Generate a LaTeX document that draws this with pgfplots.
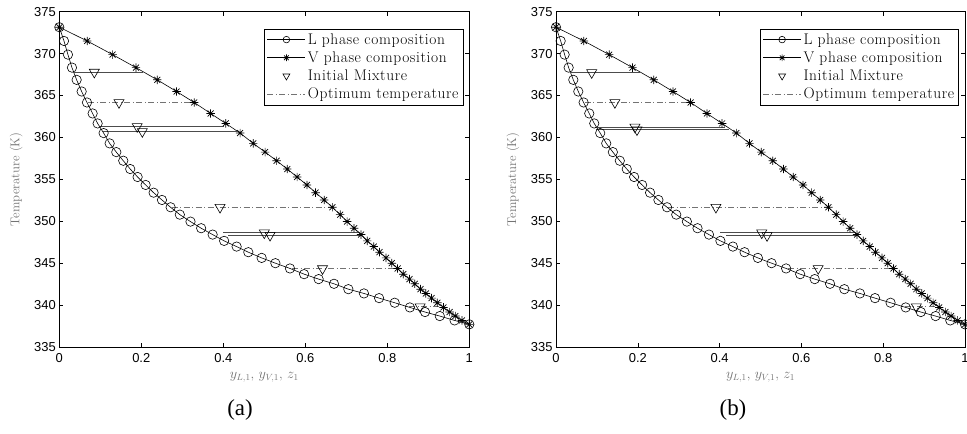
\documentclass[border=0pt]{standalone}
\usepackage{fontspec}
\usepackage{pgfplots}
\usepackage{pgfplotstable}
\pgfplotsset{compat=1.18}
\newfontfamily\helv{Liberation Sans}
\newfontfamily\capfont{Liberation Serif}
\newfontfamily\legfont[LetterSpace=4]{Latin Modern Roman}

% MATLAB-like '*' marker (plus and cross)
\pgfdeclareplotmark{mstar}{%
  \pgfpathmoveto{\pgfqpoint{-\pgfplotmarksize}{0pt}}\pgfpathlineto{\pgfqpoint{\pgfplotmarksize}{0pt}}%
  \pgfpathmoveto{\pgfqpoint{0pt}{-\pgfplotmarksize}}\pgfpathlineto{\pgfqpoint{0pt}{\pgfplotmarksize}}%
  \pgfpathmoveto{\pgfqpoint{-0.707\pgfplotmarksize}{-0.707\pgfplotmarksize}}\pgfpathlineto{\pgfqpoint{0.707\pgfplotmarksize}{0.707\pgfplotmarksize}}%
  \pgfpathmoveto{\pgfqpoint{-0.707\pgfplotmarksize}{0.707\pgfplotmarksize}}\pgfpathlineto{\pgfqpoint{0.707\pgfplotmarksize}{-0.707\pgfplotmarksize}}%
  \pgfusepathqstroke}

% liquid (bubble) curve
\pgfplotstableread{
x T
0.000 373.15
0.0114 371.51
0.0211 369.88
0.0309 368.33
0.0423 366.87
0.0545 365.48
0.0675 364.17
0.0813 362.86
0.0935 361.67
0.1081 360.52
0.1228 359.29
0.139 358.25
0.156 357.22
0.173 356.23
0.191 355.28
0.2106 354.33
0.230 353.41
0.2504 352.54
0.2715 351.67
0.294 350.79
0.320 349.96
0.346 349.17
0.374 348.41
0.402 347.66
0.4325 346.98
0.461 346.31
0.4935 345.63
0.527 345.00
0.5626 344.37
0.597 343.69
0.6325 343.10
0.670 342.54
0.705 341.90
0.743 341.39
0.780 340.83
0.818 340.28
0.855 339.72
0.892 339.17
0.928 338.69
0.964 338.17
1.000 337.70
}\Ldata

% vapour (dew) curve
\pgfplotstableread{
x T
0.000 373.15
0.068 371.51
0.130 369.88
0.187 368.33
0.239 366.87
0.286 365.48
0.329 364.17
0.369 362.86
0.406 361.67
0.441 360.52
0.473 359.29
0.502 358.25
0.530 357.22
0.556 356.23
0.580 355.28
0.604 354.33
0.625 353.41
0.646 352.54
0.666 351.67
0.685 350.79
0.702 349.96
0.719 349.17
0.736 348.41
0.751 347.66
0.767 346.98
0.781 346.31
0.797 345.63
0.811 345.00
0.825 344.37
0.839 343.69
0.854 343.10
0.867 342.54
0.881 341.90
0.894 341.39
0.908 340.83
0.922 340.28
0.937 339.72
0.952 339.17
0.966 338.69
0.982 338.17
1.000 337.70
}\Vdata

% initial mixtures
\pgfplotstableread{
x T
0.0854 367.79
0.1456 364.17
0.190 361.31
0.2025 360.71
0.392 351.67
0.500 348.62
0.514 348.33
0.642 344.35
0.880 339.80
}\triA
\pgfplotstableread{
x T
0.0873 367.74
0.144 364.17
0.193 361.24
0.198 360.92
0.391 351.67
0.503 348.62
0.516 348.30
0.641 344.37
0.881 339.80
}\triB

\pgfplotsset{
  vle/.style={
    scale only axis, width=410bp, height=335.3bp,
    xmin=0, xmax=1, ymin=335, ymax=375,
    xtick={0,0.2,0.4,0.6,0.8,1}, ytick={335,340,345,350,355,360,365,370,375},
    tick align=inside, major tick length=4bp,
    axis line style={line width=0.8bp},
    every tick/.style={black, line width=0.6bp},
    /pgf/number format/assume math mode=true,
    tick label style={font=\helv\fontsize{13}{13}\selectfont},
    xticklabel style={yshift=-3bp},
    xlabel={$y_{L,1}$, $y_{V,1}$, $z_1$},
    ylabel={Temperature (K)},
    xlabel style={at={(axis description cs:0.5,-0.0895)}, anchor=center,
      text=black!55, font=\fontsize{13.5}{14}\selectfont},
    ylabel style={at={(axis description cs:-0.105,0.5)}, anchor=center,
      text=black!55, font=\fontsize{12.8}{13}\selectfont},
    clip=false,
    legend style={at={(rel axis cs:1,1)}, anchor=north east, xshift=-6bp, yshift=-17bp,
      draw=black, line width=0.6bp, fill=white, font=\legfont\fontsize{15.5}{17}\selectfont,
      row sep=2bp, inner sep=2.5bp},
    legend cell align=left,
    legend image code/.code={\draw[mark repeat=2,mark phase=2,#1] plot coordinates {(0bp,0bp) (19bp,0bp) (38bp,0bp)};},
  },
  curveL/.style={black, line width=0.6bp, mark=o, mark size=4.7bp, mark options={solid, line width=0.6bp}},
  curveV/.style={black, line width=0.6bp, mark=mstar, mark size=4.2bp, mark options={solid, line width=0.7bp}},
  tieS/.style={black!70, line width=1bp},
  tieD/.style={black!55, line width=1bp, dash pattern=on 6bp off 2.5bp on 1bp off 2.5bp},
  tri/.style={only marks, black, mark=triangle, mark size=5.8bp, mark options={rotate=180, line width=0.6bp}},
}

\begin{document}
\begin{tikzpicture}
\path[use as bounding box] (0bp,0bp) rectangle (967bp,434bp);

% (a)
\begin{axis}[vle, at={(59.3bp,87bp)}, anchor=south west]
\addplot[curveL, forget plot] table[x=x,y=T] {\Ldata};
\addplot[curveV, forget plot] table[x=x,y=T] {\Vdata};
\addplot[tieS, forget plot] coordinates {(0.034,367.79) (0.205,367.79)};
\addplot[tieD, forget plot] coordinates {(0.0707,364.17) (0.331,364.17)};
\addplot[tieS, forget plot] coordinates {(0.099,361.31) (0.402,361.31)};
\addplot[tieS, forget plot] coordinates {(0.107,360.71) (0.438,360.71)};
\addplot[tieD, forget plot] coordinates {(0.274,351.67) (0.662,351.67)};
\addplot[tieS, forget plot] coordinates {(0.400,348.62) (0.733,348.62)};
\addplot[tieS, forget plot] coordinates {(0.412,348.33) (0.737,348.33)};
\addplot[tieD, forget plot] coordinates {(0.568,344.35) (0.826,344.35)};
\addplot[tieD, forget plot] coordinates {(0.853,339.80) (0.936,339.80)};
\addplot[tri, forget plot] table[x=x,y=T] {\triA};
\addlegendimage{curveL, mark size=3.3bp}
\addlegendentry{L phase composition}
\addlegendimage{curveV, mark size=3.3bp}
\addlegendentry{V phase composition}
\addlegendimage{tri, mark size=4bp}
\addlegendentry{Initial Mixture}
\addlegendimage{tieD, line width=0.8bp}
\addlegendentry{Optimum temperature}
\end{axis}

% (b)
\begin{axis}[vle, width=409bp, at={(556bp,87bp)}, anchor=south west]
\addplot[curveL, forget plot] table[x=x,y=T] {\Ldata};
\addplot[curveV, forget plot] table[x=x,y=T] {\Vdata};
\addplot[tieS, forget plot] coordinates {(0.034,367.74) (0.205,367.74)};
\addplot[tieD, forget plot] coordinates {(0.0707,364.17) (0.331,364.17)};
\addplot[tieS, forget plot] coordinates {(0.095,361.24) (0.414,361.24)};
\addplot[tieS, forget plot] coordinates {(0.099,360.92) (0.424,360.92)};
\addplot[tieD, forget plot] coordinates {(0.274,351.67) (0.662,351.67)};
\addplot[tieS, forget plot] coordinates {(0.402,348.62) (0.733,348.62)};
\addplot[tieS, forget plot] coordinates {(0.416,348.30) (0.737,348.30)};
\addplot[tieD, forget plot] coordinates {(0.568,344.37) (0.826,344.37)};
\addplot[tieD, forget plot] coordinates {(0.853,339.80) (0.936,339.80)};
\addplot[tri, forget plot] table[x=x,y=T] {\triB};
\addlegendimage{curveL, mark size=3.3bp}
\addlegendentry{L phase composition}
\addlegendimage{curveV, mark size=3.3bp}
\addlegendentry{V phase composition}
\addlegendimage{tri, mark size=4bp}
\addlegendentry{Initial Mixture}
\addlegendimage{tieD, line width=0.8bp}
\addlegendentry{Optimum temperature}
\end{axis}

\node[font=\capfont\fontsize{23}{25}\selectfont] at (240bp,24bp) {(a)};
\node[font=\capfont\fontsize{23}{25}\selectfont] at (733bp,24bp) {(b)};
\end{tikzpicture}
\end{document}
